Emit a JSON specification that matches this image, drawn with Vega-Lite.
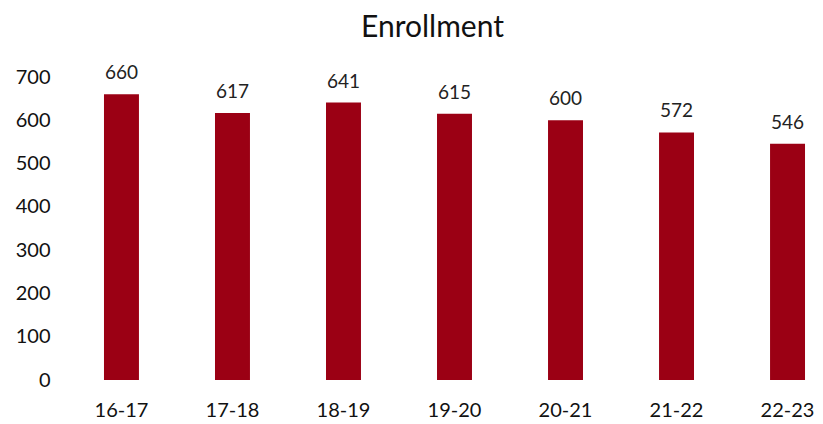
{
  "$schema": "https://vega.github.io/schema/vega-lite/v6.json",
  "width": 739,
  "height": 303,
  "autosize": "none",
  "padding": {"left": 85, "top": 77, "right": 0, "bottom": 44},
  "background": "white",
  "config": {"view": {"stroke": null}, "font": "Lato"},
  "title": {"text": "Enrollment", "fontSize": 30, "font": "Lato", "fontWeight": "normal", "color": "#111", "anchor": "middle", "dx": -22, "offset": 21},
  "data": {"values": [
    {"year": "16-17", "enrollment": 660},
    {"year": "17-18", "enrollment": 617},
    {"year": "18-19", "enrollment": 641},
    {"year": "19-20", "enrollment": 615},
    {"year": "20-21", "enrollment": 600},
    {"year": "21-22", "enrollment": 572},
    {"year": "22-23", "enrollment": 546}
  ]},
  "encoding": {
    "x": {"field": "year", "type": "nominal", "sort": null,
      "scale": {"paddingInner": 0.685, "paddingOuter": 0.171},
      "axis": {"title": null, "labelAngle": 0, "domain": false, "ticks": false, "labelFontSize": 20, "labelColor": "#111", "labelPadding": 20}},
    "y": {"field": "enrollment", "type": "quantitative",
      "scale": {"domain": [0, 700], "nice": false},
      "axis": {"title": null, "values": [0, 100, 200, 300, 400, 500, 600, 700], "domain": false, "ticks": false, "grid": false, "labelFontSize": 20, "labelColor": "#111", "labelPadding": 35}}
  },
  "layer": [
    {"mark": {"type": "bar", "color": "#9B0014"}},
    {"mark": {"type": "text", "baseline": "alphabetic", "dy": -15, "fontSize": 19, "color": "#222"},
     "encoding": {"text": {"field": "enrollment", "type": "quantitative"}}}
  ]
}
